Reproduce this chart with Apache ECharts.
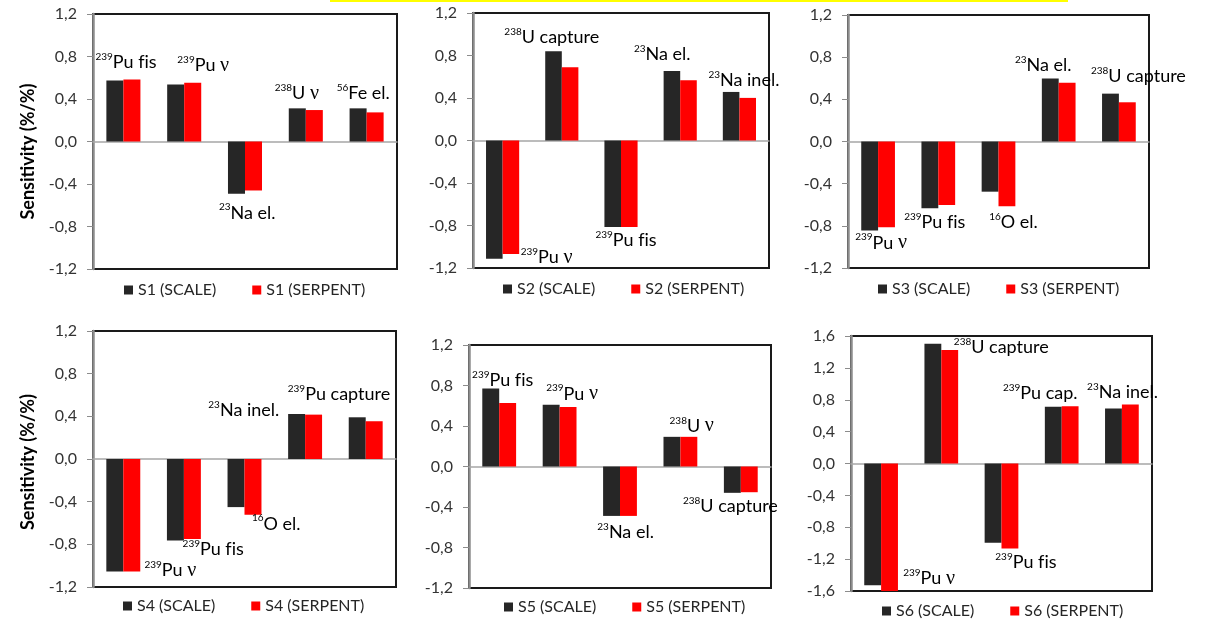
<!DOCTYPE html>
<html>
<head>
<meta charset="utf-8">
<script src="https://cdn.jsdelivr.net/npm/echarts@6/dist/echarts.min.js"></script>
<style>
  html, body { margin: 0; padding: 0; background: #ffffff; }
  #main { width: 1209px; height: 623px; }
</style>
</head>
<body>
<div id="main"></div>
<script>
// Sensitivity coefficients (%/%) for six cases, SCALE vs SERPENT
const catsS1 = ['239Pu fis', '239Pu ν', '23Na el.', '238U ν', '56Fe el.'];
const scaleS1 = [0.574, 0.536, -0.492, 0.312, 0.312];
const serpS1 = [0.583, 0.552, -0.461, 0.296, 0.274];

const catsS2 = ['239Pu ν', '238U capture', '239Pu fis', '23Na el.', '23Na inel.'];
const scaleS2 = [-1.112, 0.840, -0.815, 0.655, 0.457];
const serpS2 = [-1.068, 0.689, -0.815, 0.567, 0.401];

const catsS3 = ['239Pu ν', '239Pu fis', '16O el.', '23Na el.', '238U capture'];
const scaleS3 = [-0.844, -0.633, -0.476, 0.598, 0.454];
const serpS3 = [-0.813, -0.602, -0.614, 0.557, 0.372];

const catsS4 = ['239Pu ν', '239Pu fis', '16O el.', '23Na inel.', '239Pu capture'];
const scaleS4 = [-1.055, -0.764, -0.451, 0.422, 0.391];
const serpS4 = [-1.055, -0.751, -0.523, 0.416, 0.354];

const catsS5 = ['239Pu fis', '239Pu ν', '23Na el.', '238U ν', '238U capture'];
const scaleS5 = [0.771, 0.610, -0.488, 0.293, -0.260];
const serpS5 = [0.626, 0.587, -0.488, 0.293, -0.254];

const catsS6 = ['239Pu ν', '238U capture', '239Pu fis', '239Pu cap.', '23Na inel.'];
const scaleS6 = [-1.529, 1.504, -0.993, 0.712, 0.691];
const serpS6 = [-1.600, 1.424, -1.068, 0.720, 0.741];

const caseNames = ['S1', 'S2', 'S3', 'S4', 'S5', 'S6'];
const axisRanges = [1.2, 1.2, 1.2, 1.2, 1.2, 1.6];

const panels = [
  { id: caseNames[0], cats: catsS1, scale: scaleS1, serp: serpS1, range: axisRanges[0] },
  { id: caseNames[1], cats: catsS2, scale: scaleS2, serp: serpS2, range: axisRanges[1] },
  { id: caseNames[2], cats: catsS3, scale: scaleS3, serp: serpS3, range: axisRanges[2] },
  { id: caseNames[3], cats: catsS4, scale: scaleS4, serp: serpS4, range: axisRanges[3] },
  { id: caseNames[4], cats: catsS5, scale: scaleS5, serp: serpS5, range: axisRanges[4] },
  { id: caseNames[5], cats: catsS6, scale: scaleS6, serp: serpS6, range: axisRanges[5] }
];

// Layout: plot rectangles, legend anchors, axis-title settings
const gridBoxes = [
  { left: 93, top: 14, width: 304, height: 255 },
  { left: 473, top: 13, width: 296, height: 255 },
  { left: 848, top: 15, width: 301, height: 253 },
  { left: 93, top: 331, width: 303, height: 256 },
  { left: 469, top: 345, width: 302, height: 243 },
  { left: 851, top: 336, width: 301, height: 255 }
];
const legendPos = [
  { left: 124, cy: 291 }, { left: 503, cy: 290 }, { left: 878, cy: 290 },
  { left: 123, cy: 607 }, { left: 504, cy: 608 }, { left: 882, cy: 612 }
];
const yTitlePad = [20, null, null, 6, null, null];

// Label offsets [dx, dy] from the end of the SCALE bar at the category centre
const labelOffsets = [
  [[2.6, -18], [19, -19], [2.3, 19], [-9, -15], [-3.3, -15]],
  [[44, -1], [-10, -14], [5, 12.7], [-18, -16.7], [4.5, -12]],
  [[3, 12.3], [-3.5, 14.4], [15, 31], [-15.4, -13.2], [19.5, -17.3]],
  [[47, -1], [29.3, 8.3], [31.7, 16.6], [-61.3, -3.4], [-26.7, -23]],
  [[3.5, -8.3], [12.5, -11], [5.6, 16.4], [11.3, -10.6], [-10.4, 13.7]],
  [[48, -6.7], [60, 3.6], [24.4, 19.4], [-21.5, -13.4], [0.7, -16.6]]
];

const FONT = 'Lato, "Liberation Sans", Arial, sans-serif';
const SERIF = '"Liberation Serif", "DejaVu Serif", serif';
const SCALE_COLOR = '#262626';
const SERP_COLOR = '#ff0000';

// Isotope mass number as superscript; Greek nu in a serif face; no "fi" ligature
function richName(name) {
  const m = name.match(/^(\d+)(.*)$/);
  let head = '', body = name;
  if (m) { head = '{sup|' + m[1] + '}'; body = m[2]; }
  body = body.replace(/fi/g, 'f\u200Ci');
  const parts = body.split('ν');
  let out = head;
  parts.forEach(function (s, i) {
    if (s) out += '{main|' + s + '}';
    if (i < parts.length - 1) out += '{nu|ν}';
  });
  return out;
}
const labelRich = {
  sup: { fontSize: 10, fontFamily: FONT, fill: '#000', lineHeight: 14, verticalAlign: 'top' },
  main: { fontSize: 18, fontFamily: FONT, fill: '#000', lineHeight: 21, verticalAlign: 'middle' },
  nu: { fontSize: 20, fontFamily: SERIF, fill: '#000', lineHeight: 21, verticalAlign: 'middle' }
};

const grid = [], xAxis = [], yAxis = [], series = [], legend = [];

panels.forEach(function (p, k) {
  const g = gridBoxes[k];
  grid.push({
    left: g.left, top: g.top, width: g.width, height: g.height,
    show: true, borderColor: '#1a1a1a', borderWidth: 2, backgroundColor: 'transparent'
  });
  xAxis.push({
    type: 'category', gridIndex: k, data: p.cats,
    axisLine: { onZero: true, lineStyle: { color: '#a6a6a6', width: 1.5 } },
    axisTick: { show: false }, axisLabel: { show: false }, splitLine: { show: false }
  });
  const y = {
    type: 'value', gridIndex: k, min: -p.range, max: p.range, interval: 0.4,
    axisLine: { show: true, lineStyle: { color: '#8c8c8c', width: 2.5 } },
    axisTick: { show: true, length: 6, lineStyle: { color: '#8c8c8c', width: 1 } },
    axisLabel: {
      fontSize: 16, color: '#333333', margin: 16, fontFamily: FONT,
      formatter: function (v) { if (Math.abs(v) < 1e-9) v = 0; return v.toFixed(1).replace('.', ','); }
    },
    splitLine: { show: false }
  };
  if (yTitlePad[k] !== null) {
    y.name = 'Sensitivity (%/%)';
    y.nameLocation = 'middle';
    y.nameRotate = 90;
    y.nameGap = 56;
    y.nameTextStyle = { fontWeight: 'bold', fontSize: 18, color: '#000', fontFamily: FONT, padding: [0, yTitlePad[k], 0, 0] };
  }
  yAxis.push(y);

  const nScale = p.id + ' (SCALE)';
  const nSerp = p.id + ' (SERPENT)';
  series.push({
    type: 'bar', name: nScale, xAxisIndex: k, yAxisIndex: k, data: p.scale,
    itemStyle: { color: SCALE_COLOR }, barGap: '0%', barCategoryGap: '44%', animation: false
  });
  series.push({
    type: 'bar', name: nSerp, xAxisIndex: k, yAxisIndex: k, data: p.serp,
    itemStyle: { color: SERP_COLOR }, barGap: '0%', barCategoryGap: '44%', animation: false
  });
  // Category name tags placed next to each bar pair
  const offs = labelOffsets[k];
  series.push({
    type: 'custom', xAxisIndex: k, yAxisIndex: k, z: 5, clip: false, silent: true, animation: false,
    data: p.cats.map(function (c, i) { return [i, p.scale[i]]; }),
    renderItem: function (params, api) {
      const i = params.dataIndex;
      const pt = api.coord([api.value(0), api.value(1)]);
      return {
        type: 'text', x: pt[0] + offs[i][0], y: pt[1] + offs[i][1],
        style: { text: richName(p.cats[i]), rich: labelRich, align: 'center', verticalAlign: 'middle', fill: '#000' }
      };
    }
  });
  legend.push({
    left: legendPos[k].left, top: legendPos[k].cy - 9, padding: 0,
    data: [nScale, nSerp], icon: 'rect', itemWidth: 9, itemHeight: 9, itemGap: 36,
    selectedMode: false,
    textStyle: { fontSize: 16, color: '#262626', fontFamily: FONT }
  });
});

const chart = echarts.init(document.getElementById('main'));
chart.setOption({
  backgroundColor: '#ffffff',
  animation: false,
  grid: grid, xAxis: xAxis, yAxis: yAxis, series: series, legend: legend,
  graphic: [{ type: 'rect', shape: { x: 330, y: 0, width: 738, height: 2 }, style: { fill: '#ffff00' } }]
});
</script>
</body>
</html>
